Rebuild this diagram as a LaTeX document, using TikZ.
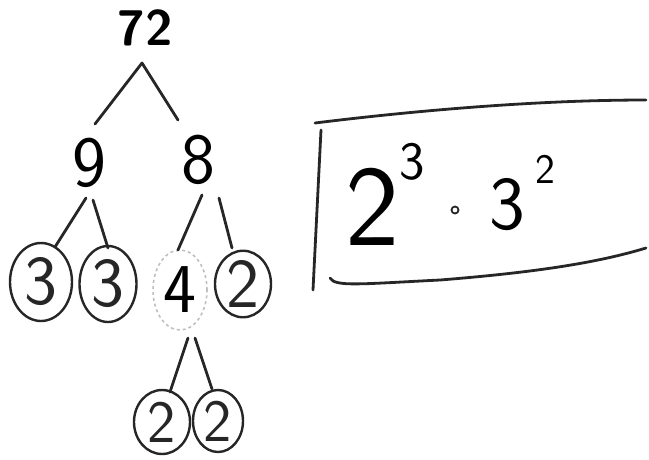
\documentclass[tikz,border=0pt]{standalone}
\usetikzlibrary{shapes.geometric}
\begin{document}
\begin{tikzpicture}[x=1pt,y=-1pt,
  ink/.style={line width=2.8pt,line cap=round,line join=round,black!85},
  digit/.style={inner sep=0pt,font=\fontsize{72}{72}\selectfont\sffamily},
  cdigit/.style={ellipse,draw,line width=2.4pt,black!85,inner sep=0pt,font=\fontsize{70}{70}\selectfont\sffamily},
  sup/.style={inner sep=0pt,font=\fontsize{54}{54}\selectfont\sffamily}]
\path[use as bounding box] (0,0) rectangle (649,459);
% tree
\node[inner sep=0pt,font=\fontsize{50}{50}\selectfont\sffamily\bfseries] (n72) at (145,28) {72};
\node[digit] (n9) at (89,163) {9};
\node[digit] (n8) at (198,160) {8};
\node[cdigit,minimum width=62,minimum height=78] (c3a) at (41,282) {3};
\node[cdigit,minimum width=57,minimum height=76] (c3b) at (108,284) {3};
\node[ellipse,draw=black!25,dashed,line width=1.6pt,minimum width=54,minimum height=80,inner sep=0pt,font=\fontsize{70}{70}\selectfont\sffamily] (c4) at (180,290) {4};
\node[cdigit,minimum width=56,minimum height=64] (c2) at (243,284) {2};
\node[cdigit,minimum width=56,minimum height=64,font=\fontsize{60}{60}\selectfont\sffamily] (c2a) at (162,422) {2};
\node[cdigit,minimum width=50,minimum height=62,font=\fontsize{60}{60}\selectfont\sffamily] (c2b) at (218,421) {2};
% connector ends
\coordinate (apex) at (142,63);
\coordinate (a9) at (95,124);
\coordinate (a8) at (178,120);
\coordinate (b9l) at (86,198);
\coordinate (e3a) at (55,247);
\coordinate (b9r) at (93,200);
\coordinate (e3b) at (108,248);
\coordinate (b8l) at (202,195);
\coordinate (e4) at (178,250);
\coordinate (b8r) at (219,198);
\coordinate (e2) at (232,248);
\coordinate (b4l) at (188,338);
\coordinate (e2a) at (170,392);
\coordinate (b4r) at (195,338);
\coordinate (e2b) at (212,389);
\draw[ink] (a9) -- (apex) -- (a8);
\draw[ink] (b9l) -- (e3a);
\draw[ink] (b9r) -- (e3b);
\draw[ink] (b8l) -- (e4);
\draw[ink] (b8r) -- (e2);
\draw[ink] (b4l) -- (e2a);
\draw[ink] (b4r) -- (e2b);
% answer box (open on the right)
\coordinate (tl) at (315,123);
\coordinate (tr) at (646,100);
\coordinate (lt) at (321,130);
\coordinate (lb) at (313,290);
\coordinate (bl) at (330,278);
\coordinate (br) at (646,248);
\draw[ink] (tl) .. controls (420,110) and (540,100) .. (tr);
\draw[ink] (lt) -- (lb);
\draw[ink] (bl) .. controls (335,287) and (360,284) .. (440,280) .. controls (540,272) and (600,262) .. (br);
% answer
\node[inner sep=0pt,font=\fontsize{115}{115}\selectfont\sffamily] (p2) at (373,207) {2};
\node[sup] (s3) at (412,162) {3};
\node[circle,draw,line width=1.8pt,black!85,inner sep=0pt,minimum size=7] (dot) at (455,210) {};
\node[inner sep=0pt,font=\fontsize{76}{76}\selectfont\sffamily] (p3) at (507,205) {3};
\node[sup,font=\fontsize{42}{42}\selectfont\sffamily] (s2) at (545,169) {2};
\end{tikzpicture}
\end{document}
